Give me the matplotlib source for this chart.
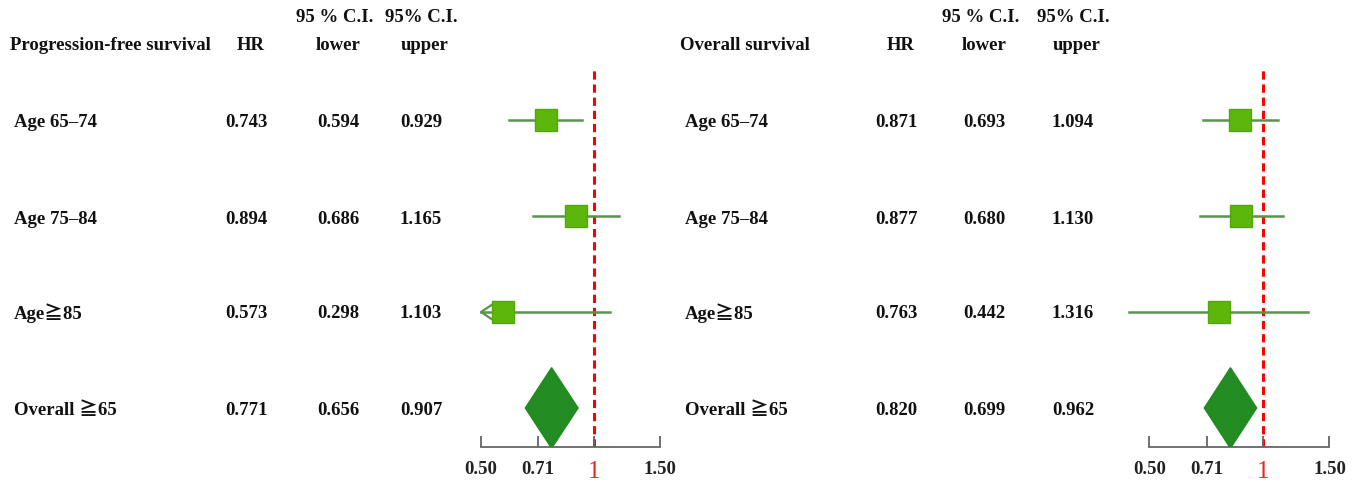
import numpy as np
import matplotlib
matplotlib.use("Agg")
from matplotlib import pyplot as plt
from matplotlib.patches import Polygon

# --- data ---
row_labels = ["Age 65\u201374", "Age 75\u201384", "Age\u226785", "Overall \u226765"]

pfs_hr = [0.743, 0.894, 0.573, 0.771]
pfs_lower = [0.594, 0.686, 0.298, 0.656]
pfs_upper = [0.929, 1.165, 1.103, 0.907]

os_hr = [0.871, 0.877, 0.763, 0.820]
os_lower = [0.693, 0.680, 0.442, 0.699]
os_upper = [1.094, 1.130, 1.316, 0.962]

tick_vals = [0.50, 0.71, 1, 1.50]
tick_labels = ["0.50", "0.71", "1", "1.50"]

W, H = 1360, 486
FONT = ["Liberation Serif", "DejaVu Serif", "Noto Sans CJK JP"]
FS = 13.5
ROW_Y = [120, 218, 311, 408]   # pixel rows of the table lines
LINE_C = "#55964a"
BOX_C = "#5cb60c"
DIAMOND_C = "#228b22"

plt.rcParams["font.family"] = FONT
fig = plt.figure(figsize=(W / 100, H / 100), dpi=100)


def ftext(x, y, s, ha="center", **kw):
    fig.text(x / W, 1 - (y + 2) / H, s, ha=ha, va="center", fontsize=kw.pop("fontsize", FS),
             fontweight="bold", family=FONT, color="#111111", **kw)


def panel(title, title_x, label_x, col_x, hr, lo, up, ax_px, px_one, k):
    # header
    ftext(title_x, 44, title, ha="left")
    ftext(col_x[0] + 5, 44, "HR")
    ftext(col_x[1] - 3, 16, "95 % C.I.")
    ftext(col_x[1], 44, "lower")
    ftext(col_x[2], 16, "95% C.I.")
    ftext(col_x[2] + 4, 44, "upper")
    # table rows
    for i, lab in enumerate(row_labels):
        ftext(label_x, ROW_Y[i], lab, ha="left")
        ftext(col_x[0], ROW_Y[i], f"{hr[i]:.3f}")
        ftext(col_x[1], ROW_Y[i], f"{lo[i]:.3f}")
        ftext(col_x[2], ROW_Y[i], f"{up[i]:.3f}")

    # forest plot axes, log scale
    left, right = ax_px
    top, bottom = 68, 447
    ax = fig.add_axes([left / W, 1 - bottom / H, (right - left) / W, (bottom - top) / H])
    ax.set_xscale("log")
    ax.set_xlim(np.exp((left - px_one) / k), np.exp((right - px_one) / k))
    sp = (ROW_Y[3] - ROW_Y[0]) / 3
    ax.set_ylim((bottom - ROW_Y[0]) / sp, (top - ROW_Y[0]) / sp)
    ax.patch.set_alpha(0)

    ax.axvline(1, color="red", ls=(0, (2.7, 1.6)), lw=2.2, zorder=1)

    n = len(hr)
    for i in range(n - 1):
        l = lo[i]
        if l < 0.4:
            # lower limit off scale: clip at 0.5 with an open arrowhead
            l = 0.5
            tip = 0.5 * np.exp(13 / k)
            ax.plot([tip, l, tip], [i - 0.09, i, i + 0.09], color=LINE_C, lw=1.6, zorder=2)
        ax.plot([l, up[i]], [i, i], color=LINE_C, lw=1.8, zorder=2)
        ax.plot(hr[i], i, marker="s", ms=15.5, color=BOX_C, mec="#52a808", zorder=3)

    j = n - 1
    d = Polygon([(lo[j], j), (hr[j], j - 0.42), (up[j], j), (hr[j], j + 0.42)],
                closed=True, color=DIAMOND_C, zorder=3)
    ax.add_patch(d)

    for s in ["left", "right", "top"]:
        ax.spines[s].set_visible(False)
    ax.spines["bottom"].set_bounds(0.5, 1.5)
    ax.spines["bottom"].set_color("#666666")
    ax.spines["bottom"].set_linewidth(1.3)
    ax.set_yticks([])
    ax.set_xticks(tick_vals)
    ax.set_xticklabels(tick_labels)
    ax.minorticks_off()
    ax.tick_params(axis="x", direction="in", length=8, width=1.3, color="#666666", pad=10)
    for t in ax.get_xticklabels():
        t.set_fontfamily(FONT)
        t.set_fontweight("bold")
        t.set_fontsize(13.5)
        t.set_color("#222222")
    one = ax.get_xticklabels()[2]
    one.set_color("#e8281e")
    one.set_fontweight("normal")
    one.set_fontsize(18)
    return ax


panel("Progression-free survival", 10, 14, [246, 338, 421],
      pfs_hr, pfs_lower, pfs_upper, (462, 690), 594, 163)
panel("Overall survival", 680, 685, [896, 984, 1073],
      os_hr, os_lower, os_upper, (1115, 1355), 1263, 164)

fig.savefig("out.png", dpi=100, facecolor="white")
